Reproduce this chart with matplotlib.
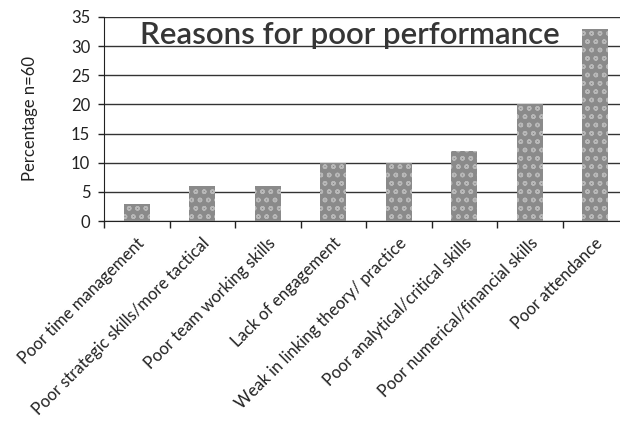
import matplotlib.pyplot as plt
import matplotlib.transforms as mtransforms

reasons = [
    "Poor time management",
    "Poor strategic skills/more tactical",
    "Poor team working skills",
    "Lack of engagement",
    "Weak in linking theory/ practice",
    "Poor analytical/critical skills",
    "Poor numerical/financial skills",
    "Poor attendance",
]
percent = [3, 6, 6, 10, 10, 12, 20, 33]

plt.rcParams['font.family'] = ['Lato', 'DejaVu Sans']
plt.rcParams['hatch.color'] = '#b8b8b8'
plt.rcParams['hatch.linewidth'] = 1.0

fig = plt.figure(figsize=(6.2, 4.23), dpi=100)
ax = fig.add_axes([0.168, 0.4775, 0.845, 0.4825])

x = list(range(len(reasons)))
ax.bar(x, percent, width=0.4, color='#8a8a8a', hatch='oo', zorder=3)

ax.set_xlim(-0.5, len(reasons) - 0.5)
ax.set_ylim(0, 35)
ax.set_yticks(range(0, 36, 5))
ax.yaxis.grid(True, color='#333333', linewidth=1.0, zorder=0)
ax.tick_params(axis='y', labelsize=12, colors='#222222', length=4, width=1,
               pad=6)

# tick marks sit between the categories, labels at the centres
ax.set_xticks([i - 0.5 for i in range(len(reasons) + 1)])
ax.set_xticklabels([])
ax.tick_params(axis='x', length=5, width=1, color='#222222')
ax.set_xticks(x, minor=True)
ax.set_xticklabels(reasons, minor=True, rotation=45, ha='right',
                   va='center', rotation_mode='anchor', fontsize=12,
                   color='#222222')
ax.tick_params(axis='x', which='minor', length=0, pad=14)
shift = mtransforms.ScaledTranslation(5 / 100, 0, fig.dpi_scale_trans)
for lbl in ax.get_xticklabels(minor=True):
    lbl.set_transform(lbl.get_transform() + shift)

for side in ['top', 'right']:
    ax.spines[side].set_visible(False)
ax.spines['left'].set_color('#222222')
ax.spines['bottom'].set_color('#222222')

ax.set_ylabel('Percentage n=60', fontsize=12, color='#222222', labelpad=24)
ax.text(0.068, 30.4, 'Reasons for poor performance',
        transform=ax.get_yaxis_transform(), fontsize=22.5,
        fontweight='semibold', color='#363636', va='baseline', ha='left',
        zorder=4)

fig.savefig('out.png', dpi=100)
